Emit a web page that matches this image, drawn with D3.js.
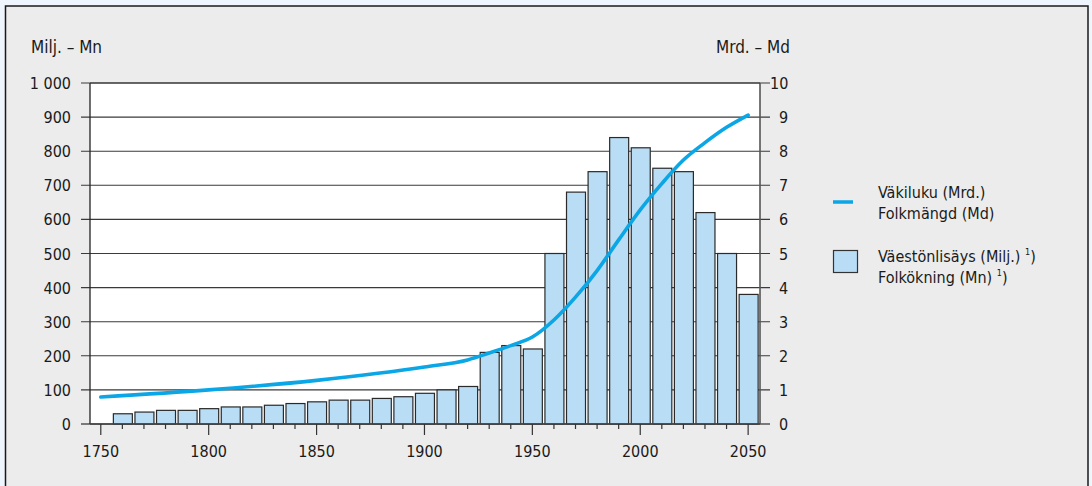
<!DOCTYPE html>
<html><head><meta charset="utf-8">
<script src="https://cdn.jsdelivr.net/npm/d3@7"></script>
<style>
body{margin:0;background:#eef5fc;}
svg{display:block;}
text{font-family:"Liberation Sans Narrow","Arial Narrow","DejaVu Sans Condensed",sans-serif;fill:#1a1a1a;}
</style></head>
<body>
<svg id="c" width="1092" height="486"></svg>
<script>
const years = [1760,1770,1780,1790,1800,1810,1820,1830,1840,1850,1860,1870,1880,1890,1900,1910,1920,1930,1940,1950,1960,1970,1980,1990,2000,2010,2020,2030,2040,2050];
const growthMn = [30,35,40,40,45,50,50,55,60,65,70,70,75,80,90,100,110,210,230,220,500,680,740,840,810,750,740,620,500,380];
const popYears = [1750,1800,1850,1900,1920,1930,1940,1950,1960,1970,1980,1990,2000,2010,2020,2030,2040,2050];
const popMd = [0.79,1.0,1.28,1.67,1.88,2.08,2.3,2.55,3.05,3.72,4.5,5.4,6.28,7.05,7.74,8.25,8.7,9.06];
const leftTicks = [0,100,200,300,400,500,600,700,800,900,1000];
const rightTicks = [0,1,2,3,4,5,6,7,8,9,10];
const xLabels = [1750,1800,1850,1900,1950,2000,2050];
const leftTitle = "Milj. – Mn";
const rightTitle = "Mrd. – Md";
const legendLine = ["Väkiluku (Mrd.)","Folkmängd (Md)"];
const legendBar = ["Väestönlisäys (Milj.)","Folkökning (Mn)"];

const svg = d3.select("#c");
// frame
svg.append("rect").attr("x",5.5).attr("y",6).attr("width",1082.5).attr("height",490)
  .attr("fill","#ececec").attr("stroke","#1a1a1a").attr("stroke-width",1.5);

const L=90,R=760,T=83,B=424;
const x = d3.scaleLinear().domain([1745,2055.5]).range([L,R]);
const yL = d3.scaleLinear().domain([0,1000]).range([B,T]);
const yR = d3.scaleLinear().domain([0,10]).range([B,T]);

svg.append("rect").attr("x",L).attr("y",T).attr("width",R-L).attr("height",B-T).attr("fill","#fff");

// gridlines + ticks
svg.append("g").selectAll("line").data(leftTicks).join("line")
  .attr("x1",81).attr("x2",770).attr("y1",d=>yL(d)).attr("y2",d=>yL(d))
  .attr("stroke",d=>d===0?"#555":"#3a3a3a").attr("stroke-width",d=>d===0?1.6:1.1);

// bars
const bw = (x(1770)-x(1760))*0.88;
svg.append("g").selectAll("rect").data(years).join("rect")
  .attr("x",(d)=>x(d)-bw/2+0.5).attr("width",bw)
  .attr("y",(d,i)=>yL(growthMn[i])).attr("height",(d,i)=>B-yL(growthMn[i]))
  .attr("fill","#b9ddf5").attr("stroke","#2a2a2a").attr("stroke-width",1.2);

// axes lines
svg.append("line").attr("x1",L).attr("x2",L).attr("y1",T).attr("y2",B).attr("stroke","#222").attr("stroke-width",1.3);
svg.append("line").attr("x1",R).attr("x2",R).attr("y1",T).attr("y2",B).attr("stroke","#555").attr("stroke-width",1.6);
svg.append("line").attr("x1",L).attr("x2",R).attr("y1",T).attr("y2",T).attr("stroke","#333").attr("stroke-width",1.2);
svg.append("line").attr("x1",L).attr("x2",R).attr("y1",B).attr("y2",B).attr("stroke","#444").attr("stroke-width",1.6);

// x ticks
const decades = d3.range(1750,2051,10);
svg.append("g").selectAll("line").data(decades).join("line")
  .attr("x1",d=>x(d)).attr("x2",d=>x(d)).attr("y1",B)
  .attr("y2",d=>d%50===0?435:429).attr("stroke","#333").attr("stroke-width",1.2);
svg.append("g").selectAll("text").data(xLabels).join("text")
  .attr("x",d=>x(d)).attr("y",457).attr("text-anchor","middle").attr("font-size",16).text(d=>d);

// y labels
const fmt = d => d>=1000 ? d3.format(",")(d).replace(","," ") : String(d);
svg.append("g").selectAll("text").data(leftTicks).join("text")
  .attr("x",71).attr("y",d=>yL(d)+6).attr("text-anchor","end").attr("font-size",16).text(fmt);
svg.append("g").selectAll("text").data(rightTicks).join("text")
  .attr("x",d=>d===10?770:779).attr("y",d=>yR(d)+6).attr("text-anchor","start").attr("font-size",16).text(d=>d);

svg.append("text").attr("x",31).attr("y",53).attr("font-size",17).text(leftTitle);
svg.append("text").attr("x",790).attr("y",53).attr("text-anchor","end").attr("font-size",17).text(rightTitle);

// line
const line = d3.line().x((d,i)=>x(popYears[i])).y(d=>yR(d)).curve(d3.curveMonotoneX);
svg.append("path").datum(popMd).attr("d",line).attr("fill","none")
  .attr("stroke","#0aa6e6").attr("stroke-width",3.6).attr("stroke-linecap","round");

// legend
svg.append("line").attr("x1",833).attr("x2",853).attr("y1",202).attr("y2",202).attr("stroke","#0aa6e6").attr("stroke-width",3.5);
svg.append("text").attr("x",878).attr("y",198).attr("font-size",16).text(legendLine[0]);
svg.append("text").attr("x",878).attr("y",219).attr("font-size",16).text(legendLine[1]);
svg.append("rect").attr("x",833.5).attr("y",250.5).attr("width",24).attr("height",22)
  .attr("fill","#b9ddf5").attr("stroke","#333").attr("stroke-width",1.2);
const t1 = svg.append("text").attr("x",878).attr("y",262).attr("font-size",16).text(legendBar[0]+" ");
t1.append("tspan").attr("font-size",9).attr("dy",-7).text("1");
t1.append("tspan").attr("dy",7).text(")");
const t2 = svg.append("text").attr("x",878).attr("y",283).attr("font-size",16).text(legendBar[1]+" ");
t2.append("tspan").attr("font-size",9).attr("dy",-7).text("1");
t2.append("tspan").attr("dy",7).text(")");
</script>
</body></html>
